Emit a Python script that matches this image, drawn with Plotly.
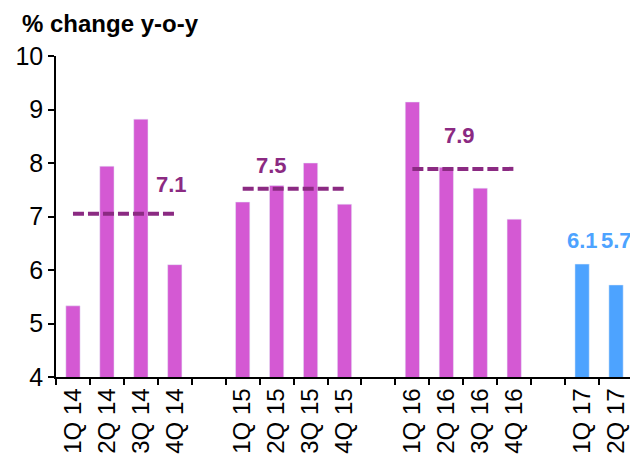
import plotly.graph_objects as go

# ---- data ----
categories = ["1Q 14", "2Q 14", "3Q 14", "4Q 14", " ",
              "1Q 15", "2Q 15", "3Q 15", "4Q 15", "  ",
              "1Q 16", "2Q 16", "3Q 16", "4Q 16", "   ",
              "1Q 17", "2Q 17"]
hist_quarters = ["1Q 14", "2Q 14", "3Q 14", "4Q 14",
                 "1Q 15", "2Q 15", "3Q 15", "4Q 15",
                 "1Q 16", "2Q 16", "3Q 16", "4Q 16"]
hist_values = [5.33, 7.94, 8.82, 6.10,
               7.27, 7.58, 8.00, 7.23,
               9.14, 7.92, 7.53, 6.95]
recent_quarters = ["1Q 17", "2Q 17"]
recent_values = [6.11, 5.72]
recent_labels = ["6.1", "5.7"]
avg_ranges = [("1Q 14", "4Q 14"), ("1Q 15", "4Q 15"), ("1Q 16", "4Q 16")]
avg_values = [7.05, 7.52, 7.89]
avg_labels = ["7.1", "7.5", "7.9"]

PINK = "#D459D3"
BLUE = "#4DA3FF"
PURPLE = "#8B2A82"
FONT = "Liberation Sans, Arial, sans-serif"

# page body has an 8px margin, so the figure is drawn 8px in from the window edge
W, H = 630, 448

fig = go.Figure()
fig.add_trace(go.Bar(x=hist_quarters, y=hist_values, marker_color=PINK,
                     width=0.42, showlegend=False))
fig.add_trace(go.Bar(x=recent_quarters, y=recent_values, marker_color=BLUE,
                     width=0.42, showlegend=False))

for (a, b), v in zip(avg_ranges, avg_values):
    fig.add_trace(go.Scatter(x=[a, b], y=[v, v], mode="lines",
                             line=dict(color=PURPLE, width=4, dash="11px,4px"),
                             showlegend=False, hoverinfo="skip"))

# average labels
avg_label_pos = [(2.91, 7.6), (5.85, 7.95), (11.4, 8.52)]
for (px, py), t in zip(avg_label_pos, avg_labels):
    fig.add_annotation(x=px, y=py, text="<b>%s</b>" % t, showarrow=False,
                       font=dict(family=FONT, size=22, color=PURPLE),
                       xref="x", yref="y")
recent_label_x = [15.0, 16.0]
for px, t in zip(recent_label_x, recent_labels):
    fig.add_annotation(x=px, y=6.55, text="<b>%s</b>" % t, showarrow=False,
                       font=dict(family=FONT, size=22, color=BLUE),
                       xref="x", yref="y")

fig.update_layout(
    width=W, height=H,
    margin=dict(l=48, r=5, t=48, b=79, autoexpand=False),
    paper_bgcolor="white", plot_bgcolor="white",
    barmode="overlay",
    font=dict(family=FONT, color="black"),
    title=dict(text="<b>% change y-o-y</b>", xref="container", yref="container",
               x=14/W, xanchor="left", y=1-16/H, yanchor="middle",
               font=dict(family=FONT, size=24, color="black")),
)
fig.update_xaxes(type="category", categoryorder="array", categoryarray=categories,
                 range=[-0.5, len(categories)-0.5], automargin=False,
                 tickson="boundaries", ticks="outside", ticklen=6, tickwidth=1.5,
                 tickcolor="black", showline=True, linecolor="black", linewidth=1.5,
                 tickangle=-90, tickfont=dict(family=FONT, size=24, color="black"),
                 showgrid=False, zeroline=False)
fig.update_yaxes(range=[4, 10], tickvals=[4, 5, 6, 7, 8, 9, 10], automargin=False,
                 ticks="outside", ticklen=6, tickwidth=1.5, tickcolor="black",
                 showline=True, linecolor="black", linewidth=1.5,
                 tickfont=dict(family=FONT, size=25, color="black"),
                 showgrid=False, zeroline=False)

fig.write_html("out.html")
